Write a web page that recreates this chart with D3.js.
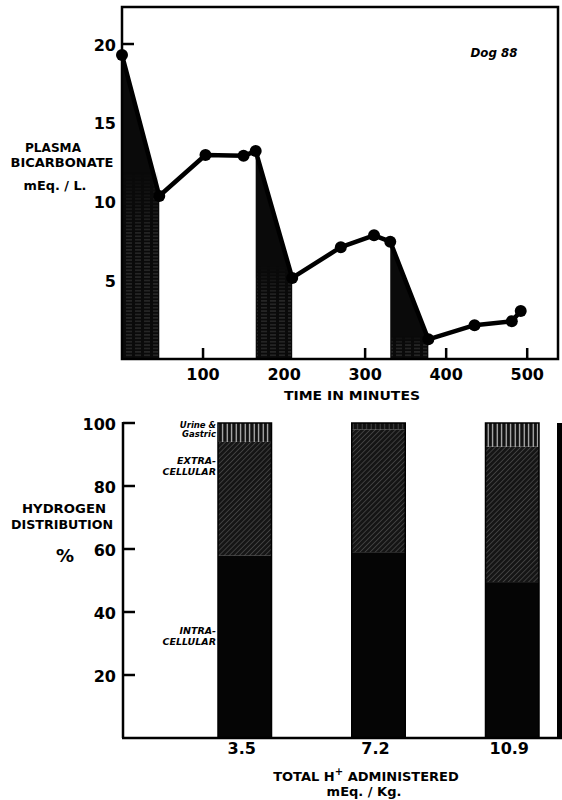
<!DOCTYPE html>
<html>
<head>
<meta charset="utf-8">
<script src="https://cdn.jsdelivr.net/npm/d3@7"></script>
<style>
  html, body { margin: 0; padding: 0; background: #fff; }
  svg { display: block; }
  text { font-family: "DejaVu Sans", sans-serif; font-weight: bold; fill: #000; }
</style>
</head>
<body>
<script>
// ---------- Data: top panel (plasma bicarbonate vs time) ----------
const times   = [0, 46, 103, 150, 165, 210, 270, 311, 331, 378, 435, 481, 492];
const bicarb  = [19.3, 10.35, 12.95, 12.9, 13.2, 5.15, 7.1, 7.85, 7.45, 1.25, 2.15, 2.4, 3.05];
const infusionStart = [0, 165, 331];
const infusionEnd   = [46, 210, 378];
const timeTicks = [100, 200, 300, 400, 500];
const bicarbTicks = [20, 15, 10, 5];

// ---------- Data: bottom panel (hydrogen distribution) ----------
const doses = ["3.5", "7.2", "10.9"];
const intracellular = [58, 59, 49.5];
const extracellular = [36, 39, 43];
const urineGastric  = [6, 2, 7.5];
const pctTicks = [20, 40, 60, 80, 100];

const W = 562, H = 800;
const svg = d3.select("body").append("svg").attr("width", W).attr("height", H);

// ---------- patterns ----------
const defs = svg.append("defs");
const hs = defs.append("pattern").attr("id", "hstreak").attr("patternUnits", "userSpaceOnUse")
  .attr("width", 9).attr("height", 3.4);
hs.append("rect").attr("width", 9).attr("height", 3.4).attr("fill", "#0a0a0a");
hs.append("line").attr("x1", 0).attr("x2", 6).attr("y1", 1.7).attr("y2", 1.7)
  .attr("stroke", "#5a5a5a").attr("stroke-width", 0.6);

const grad = defs.append("linearGradient").attr("id", "fadeUp")
  .attr("x1", 0).attr("x2", 0).attr("y1", 0).attr("y2", 1);
grad.append("stop").attr("offset", "0%").attr("stop-color", "#fff").attr("stop-opacity", 0);
grad.append("stop").attr("offset", "35%").attr("stop-color", "#fff").attr("stop-opacity", 1);
grad.append("stop").attr("offset", "100%").attr("stop-color", "#fff").attr("stop-opacity", 1);
defs.append("mask").attr("id", "fadeMask").attr("maskContentUnits", "objectBoundingBox")
  .append("rect").attr("width", 1).attr("height", 1).attr("fill", "url(#fadeUp)");

const dg = defs.append("pattern").attr("id", "diag").attr("patternUnits", "userSpaceOnUse")
  .attr("width", 3.6).attr("height", 3.6).attr("patternTransform", "rotate(45)");
dg.append("rect").attr("width", 3.6).attr("height", 3.6).attr("fill", "#151515");
dg.append("line").attr("x1", 0).attr("x2", 0).attr("y1", 0).attr("y2", 3.6)
  .attr("stroke", "#7a7a7a").attr("stroke-width", 0.8);

const vs = defs.append("pattern").attr("id", "vstreak").attr("patternUnits", "userSpaceOnUse")
  .attr("width", 4.5).attr("height", 20);
vs.append("rect").attr("width", 4.5).attr("height", 20).attr("fill", "#111");
vs.append("line").attr("x1", 2.2).attr("x2", 2.2).attr("y1", 0).attr("y2", 20)
  .attr("stroke", "#d0d0d0").attr("stroke-width", 1.1);

const vsd = defs.append("pattern").attr("id", "vstreakDark").attr("patternUnits", "userSpaceOnUse")
  .attr("width", 4.5).attr("height", 20);
vsd.append("rect").attr("width", 4.5).attr("height", 20).attr("fill", "#111");
vsd.append("line").attr("x1", 2.2).attr("x2", 2.2).attr("y1", 0).attr("y2", 20)
  .attr("stroke", "#444").attr("stroke-width", 1);

// =================== TOP PANEL ===================
const tL = 122, tR = 558, tT = 7, tB = 359;
const x1 = d3.scaleLinear().domain([0, 538]).range([tL, tR]);
const y1 = d3.scaleLinear().domain([0, 22.35]).range([tB, tT]);

const gTop = svg.append("g");

// x ticks (inward)
gTop.selectAll("line.xt").data(timeTicks).join("line")
  .attr("x1", d => x1(d)).attr("x2", d => x1(d))
  .attr("y1", tB).attr("y2", tB - 11)
  .attr("stroke", "#000").attr("stroke-width", 2.5);
gTop.selectAll("text.xl").data(timeTicks).join("text")
  .attr("x", d => x1(d)).attr("y", tB + 15)
  .attr("text-anchor", "middle").attr("dominant-baseline", "central")
  .attr("font-size", 16).text(d => d);

// y tick at 20 only (inward)
gTop.append("line").attr("x1", tL).attr("x2", tL + 12)
  .attr("y1", y1(20)).attr("y2", y1(20)).attr("stroke", "#000").attr("stroke-width", 2.5);
gTop.selectAll("text.yl").data(bicarbTicks).join("text")
  .attr("x", 116).attr("y", d => y1(d) + 1)
  .attr("text-anchor", "end").attr("dominant-baseline", "central")
  .attr("font-size", 16).text(d => d);

// shaded infusion periods
const pts = times.map((t, i) => ({ t, v: bicarb[i] }));
infusionStart.forEach((s, k) => {
  const e = infusionEnd[k];
  const seg = pts.filter(p => p.t >= s && p.t <= e);
  const poly = [[x1(s), y1(0)], ...seg.map(p => [x1(p.t), y1(p.v)]), [x1(e), y1(0)]];
  gTop.append("path").attr("d", "M" + poly.join("L") + "Z").attr("fill", "#0a0a0a");
  const low = d3.min(seg, p => p.v);
  gTop.append("rect")
    .attr("x", x1(s) + 1).attr("width", x1(e) - x1(s) - 2)
    .attr("y", y1(low * 1.15)).attr("height", y1(0) - y1(low * 1.15))
    .attr("fill", "url(#hstreak)").attr("mask", "url(#fadeMask)");
});

// frame
gTop.append("rect").attr("x", tL).attr("y", tT).attr("width", tR - tL).attr("height", tB - tT)
  .attr("fill", "none").attr("stroke", "#000").attr("stroke-width", 2.5);

// line + dots
gTop.append("path").datum(pts)
  .attr("d", d3.line().x(d => x1(d.t)).y(d => y1(d.v)))
  .attr("fill", "none").attr("stroke", "#000").attr("stroke-width", 4.5)
  .attr("stroke-linejoin", "round");
gTop.selectAll("circle").data(pts).join("circle")
  .attr("cx", d => x1(d.t)).attr("cy", d => y1(d.v)).attr("r", 6).attr("fill", "#000");

// labels
gTop.append("text").attr("x", 352).attr("y", 395).attr("text-anchor", "middle")
  .attr("dominant-baseline", "central").attr("font-size", 13)
  .attr("textLength", 136).attr("lengthAdjust", "spacingAndGlyphs").text("TIME IN MINUTES");
[["PLASMA", 53, 147, 56], ["BICARBONATE", 62, 162, 103], ["mEq. / L.", 55, 185, 63]].forEach(([t, x, y, w]) => {
  gTop.append("text").attr("x", x).attr("y", y).attr("text-anchor", "middle")
    .attr("dominant-baseline", "central").attr("font-size", 12.5)
    .attr("textLength", w).attr("lengthAdjust", "spacingAndGlyphs").text(t);
});
gTop.append("text").attr("x", 494).attr("y", 53).attr("text-anchor", "middle")
  .attr("dominant-baseline", "central").attr("font-size", 12).attr("font-style", "italic")
  .attr("textLength", 47).attr("lengthAdjust", "spacingAndGlyphs").text("Dog 88");

// =================== BOTTOM PANEL ===================
const bL = 123, bB = 738, bT = 423;
const x2 = d3.scaleBand().domain(doses).range([218, 539]).paddingInner(0.6).paddingOuter(0);
const y2 = d3.scaleLinear().domain([0, 100]).range([bB, bT]);

const gBot = svg.append("g");
const rows = doses.map((d, i) => ({
  dose: d, intra: intracellular[i], extra: extracellular[i], urine: urineGastric[i]
}));
const keys = ["intra", "extra", "urine"];
const stack = d3.stack().keys(keys)(rows);
const fills = { intra: () => "#050505", extra: () => "url(#diag)",
  urine: d => d.data.urine < 3 ? "url(#vstreakDark)" : "url(#vstreak)" };

stack.forEach(layer => {
  gBot.selectAll(null).data(layer).join("rect")
    .attr("x", d => x2(d.data.dose)).attr("width", x2.bandwidth())
    .attr("y", d => y2(d[1])).attr("height", d => y2(d[0]) - y2(d[1]))
    .attr("fill", d => fills[layer.key](d));
});
// bar outlines
gBot.selectAll("rect.outline").data(rows).join("rect")
  .attr("x", d => x2(d.dose)).attr("width", x2.bandwidth())
  .attr("y", y2(100)).attr("height", y2(0) - y2(100))
  .attr("fill", "none").attr("stroke", "#000").attr("stroke-width", 1.5);

// right-hand cut-off edge
gBot.append("rect").attr("x", 557).attr("y", y2(100)).attr("width", 6).attr("height", y2(0) - y2(100))
  .attr("fill", "#000");

// axes
gBot.append("line").attr("x1", bL).attr("x2", bL).attr("y1", bT - 1).attr("y2", bB)
  .attr("stroke", "#000").attr("stroke-width", 2.5);
gBot.append("line").attr("x1", bL - 1).attr("x2", W).attr("y1", bB).attr("y2", bB)
  .attr("stroke", "#000").attr("stroke-width", 2.5);
gBot.selectAll("line.yt").data(pctTicks).join("line")
  .attr("x1", bL).attr("x2", bL + 12).attr("y1", d => y2(d)).attr("y2", d => y2(d))
  .attr("stroke", "#000").attr("stroke-width", 2.5);
gBot.selectAll("text.yl").data(pctTicks).join("text")
  .attr("x", 116).attr("y", d => y2(d) + 1).attr("text-anchor", "end")
  .attr("dominant-baseline", "central").attr("font-size", 16).text(d => d);
gBot.selectAll("text.xl").data(doses).join("text")
  .attr("x", d => x2(d) + x2.bandwidth() / 2 - 3).attr("y", 748)
  .attr("text-anchor", "middle").attr("dominant-baseline", "central")
  .attr("font-size", 16).text(d => d);

// axis titles
[["HYDROGEN", 64, 508, 84, 13], ["DISTRIBUTION", 62, 524, 102, 13]].forEach(([t, x, y, w, fs]) => {
  gBot.append("text").attr("x", x).attr("y", y).attr("text-anchor", "middle")
    .attr("dominant-baseline", "central").attr("font-size", fs)
    .attr("textLength", w).attr("lengthAdjust", "spacingAndGlyphs").text(t);
});
gBot.append("text").attr("x", 65).attr("y", 555).attr("text-anchor", "middle")
  .attr("dominant-baseline", "central").attr("font-size", 18).text("%");

const xt = gBot.append("text").attr("x", 366).attr("y", 776).attr("text-anchor", "middle")
  .attr("dominant-baseline", "central").attr("font-size", 13);
xt.append("tspan").text("TOTAL H");
xt.append("tspan").attr("font-size", 10).attr("dy", -5).text("+");
xt.append("tspan").attr("dy", 5).text(" ADMINISTERED");
gBot.append("text").attr("x", 364).attr("y", 791).attr("text-anchor", "middle")
  .attr("dominant-baseline", "central").attr("font-size", 13).text("mEq. / Kg.");

// segment labels beside first bar
const segLabels = [
  ["Urine &", 425, 8.5], ["Gastric", 434, 8.5],
  ["EXTRA-", 460, 9.5], ["CELLULAR", 471, 9.5],
  ["INTRA-", 630, 9.5], ["CELLULAR", 641, 9.5]
];
segLabels.forEach(([t, y, fs]) => {
  gBot.append("text").attr("x", 216).attr("y", y).attr("text-anchor", "end")
    .attr("dominant-baseline", "central").attr("font-size", fs)
    .attr("font-style", "italic").text(t);
});
</script>
</body>
</html>
